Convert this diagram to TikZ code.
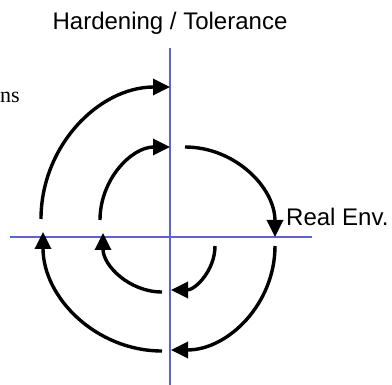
\documentclass[tikz,border=0pt]{standalone}
\usepackage{fontspec}
\setmainfont{Liberation Serif}
\setsansfont{Liberation Sans}
\usetikzlibrary{arrows.meta}
\definecolor{axisblue}{RGB}{95,95,225}
\begin{document}
\begin{tikzpicture}[x=1pt,y=-1pt,
  axisline/.style={axisblue,line width=1.1pt},
  spiral/.style={line width=3.4pt,-{Triangle[length=17pt,width=16pt]}},
  label/.style={font=\sffamily\fontsize{24}{28}\selectfont,inner sep=0pt}]
\useasboundingbox (0,0) rectangle (392,385);
% axes
\coordinate (vtop) at (170,48);
\coordinate (vbot) at (170,385);
\coordinate (hl) at (10,237);
\coordinate (hr) at (312,237);
\draw[axisline] (vtop) -- (vbot);
\draw[axisline] (hl) -- (hr);
% labels
\node[label,anchor=base] (hard) at (170,30) {Hardening / Tolerance};
\node[label,anchor=base west] (real) at (286,226) {Real Env.};
\node[font=\fontsize{22}{25}\selectfont,inner sep=0pt,anchor=base west] (ns) at (0,103) {ns};
% spiral arcs
\coordinate (a1) at (215,246);
\coordinate (a2) at (162,292);
\coordinate (a3) at (100,220);
\coordinate (a4) at (185,147);
\coordinate (a5) at (275,246);
\coordinate (a6) at (162,351);
\coordinate (a7) at (41,219);
\draw[spiral] (a1) arc[start angle=0,end angle=90,radius=44];
\draw[spiral] (a2) arc[start angle=90,end angle=180,radius=59];
\draw[spiral] (a3) arc[start angle=180,end angle=270,x radius=70,y radius=73];
\draw[spiral] (a4) arc[start angle=270,end angle=360,radius=90];
\draw[spiral] (a5) arc[start angle=0,end angle=90,radius=104];
\draw[spiral] (a6) arc[start angle=90,end angle=180,radius=119];
\draw[spiral] (a7) arc[start angle=180,end angle=270,x radius=129,y radius=132];
\end{tikzpicture}
\end{document}
